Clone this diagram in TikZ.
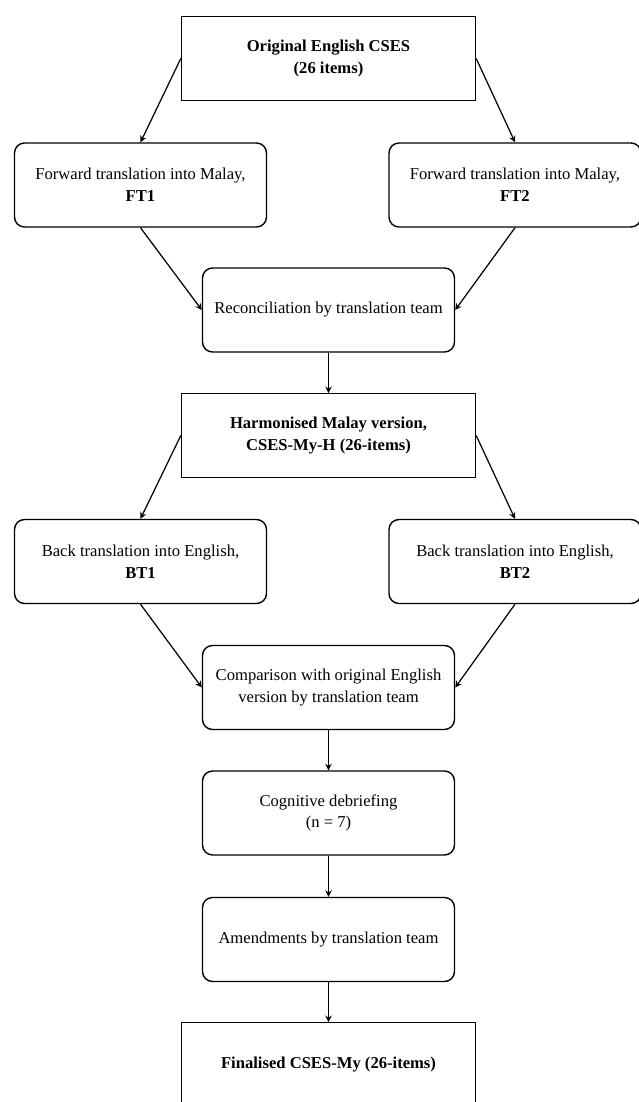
\documentclass[tikz,border=0pt]{standalone}
\usepackage{amsmath}
\usepackage{fontspec}
\setmainfont{Liberation Serif}
\usetikzlibrary{calc,arrows.meta}

\begin{document}
\begin{tikzpicture}[
    box/.style={draw, line width=0.8pt, align=center, inner sep=0pt, font=\fontsize{9.45}{12.35}\selectfont},
    mainbox/.style={box, minimum width=5.88cm, minimum height=1.67cm},
    stepbox/.style={box, rounded corners=0.2cm, minimum width=5.04cm, minimum height=1.68cm},
    arr/.style={-{Stealth[length=1.3mm,width=1.3mm]}, line width=0.7pt}
]

    % Границы рисунка
    \useasboundingbox (0,0) rectangle (12.78,-22.04);

    % Исходная английская версия
    \node[mainbox] (orig) at (6.57,-1.17) {\textbf{Original English CSES}\\\textbf{(26 items)}};

    % Прямой перевод (два переводчика)
    \node[stepbox] (ft1) at (2.81,-3.70) {Forward translation into Malay,\\\textbf{FT1}};
    \node[stepbox] (ft2) at (10.30,-3.70) {Forward translation into Malay,\\\textbf{FT2}};
    \draw[arr] (orig.west) -- (ft1.north);
    \draw[arr] (orig.east) -- (ft2.north);

    % Согласование
    \node[stepbox] (recon) at (6.57,-6.20) {Reconciliation by translation team};
    \draw[arr] (ft1.south) -- (recon.west);
    \draw[arr] (ft2.south) -- (recon.east);

    % Согласованная малайская версия
    \node[mainbox] (harm) at (6.57,-8.71) {\textbf{Harmonised Malay version,}\\\textbf{CSES-My-H (26-items)}};
    \draw[arr] (recon.south) -- (harm.north);

    % Обратный перевод
    \node[stepbox] (bt1) at (2.81,-11.23) {Back translation into English,\\\textbf{BT1}};
    \node[stepbox] (bt2) at (10.30,-11.23) {Back translation into English,\\\textbf{BT2}};
    \draw[arr] (harm.west) -- (bt1.north);
    \draw[arr] (harm.east) -- (bt2.north);

    % Сравнение с оригиналом
    \node[stepbox] (comp) at (6.57,-13.75) {Comparison with original English\\version by translation team};
    \draw[arr] (bt1.south) -- (comp.west);
    \draw[arr] (bt2.south) -- (comp.east);

    % Когнитивное интервью и правки
    \node[stepbox] (cog) at (6.57,-16.26) {Cognitive debriefing\\(n = 7)};
    \node[stepbox] (amend) at (6.57,-18.79) {Amendments by translation team};
    \draw[arr] (comp.south) -- (cog.north);
    \draw[arr] (cog.south) -- (amend.north);

    % Итоговая версия (низ рамки обрезан)
    \node[mainbox] (final) at (6.57,-21.29) {\textbf{Finalised CSES-My (26-items)}};
    \draw[arr] (amend.south) -- (final.north);

\end{tikzpicture}
\end{document}
